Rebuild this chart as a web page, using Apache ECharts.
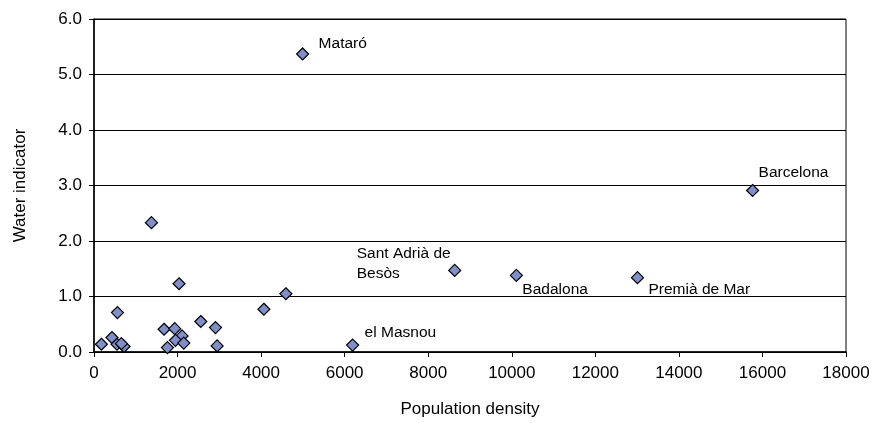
<!DOCTYPE html>
<html><head><meta charset="utf-8">
<script src="https://cdn.jsdelivr.net/npm/echarts@6/dist/echarts.min.js"></script>
<style>html,body{margin:0;padding:0;background:#fff}#c{width:877px;height:423px}</style>
</head><body><div id="c"></div>
<script>
const density = [4993, 15764, 13009, 10110, 8634, 6190, 1375, 2036, 561, 4066, 4593, 2556, 2908, 1677, 1933, 2108, 1950, 2149, 1758, 2947, 177, 431, 551, 719, 656];
const water   = [5.37, 2.91, 1.34, 1.38, 1.47, 0.125, 2.33, 1.23, 0.71, 0.77, 1.05, 0.55, 0.44, 0.41, 0.42, 0.29, 0.21, 0.16, 0.08, 0.11, 0.14, 0.26, 0.14, 0.10, 0.15];
const names   = ["Mataró", "Barcelona", "Premià de Mar", "Badalona", "Sant Adrià de\nBesòs", "el Masnou", "", "", "", "", "", "", "", "", "", "", "", "", "", "", "", "", "", "", ""];
const labelOffsets = {
  "Mataró": [16, -10],
  "Barcelona": [6, -18],
  "Premià de Mar": [11, 12],
  "Badalona": [6, 14],
  "Sant Adrià de\nBesòs": [-98, -7],
  "el Masnou": [12, -12]
};
const xTicks = {min: 0, max: 18000, interval: 2000};
const yTicks = {min: 0, max: 6, interval: 1};
const FONT = 'Liberation Sans, Arial, sans-serif';

const data = density.map((d, i) => {
  const item = {value: [d, water[i]], name: names[i]};
  if (names[i]) {
    item.label = {show: true, formatter: names[i], position: 'inside', align: 'left',
      offset: labelOffsets[names[i]], color: '#000', fontSize: 15.5,
      fontFamily: FONT, lineHeight: 20};
  }
  return item;
});

const chart = echarts.init(document.getElementById('c'));
chart.setOption({
  animation: false,
  grid: {left: 94, right: 31, top: 19, bottom: 69, show: true, borderColor: '#000', borderWidth: 1},
  xAxis: {
    type: 'value', min: xTicks.min, max: xTicks.max, interval: xTicks.interval,
    name: 'Population density', nameLocation: 'middle', nameGap: 49,
    nameTextStyle: {fontSize: 17, color: '#000', fontFamily: FONT},
    axisLine: {show: true, lineStyle: {color: '#000', width: 1.5}},
    axisTick: {show: true, length: 5, lineStyle: {color: '#000'}},
    axisLabel: {color: '#000', fontSize: 17, margin: 13, fontFamily: FONT, formatter: v => String(v)},
    splitLine: {show: false}
  },
  yAxis: {
    type: 'value', min: yTicks.min, max: yTicks.max, interval: yTicks.interval,
    name: 'Water indicator', nameLocation: 'middle', nameGap: 65,
    nameTextStyle: {fontSize: 17, color: '#000', fontFamily: FONT},
    axisLine: {show: true, lineStyle: {color: '#000', width: 1.5}},
    axisTick: {show: true, length: 5, lineStyle: {color: '#000'}},
    axisLabel: {color: '#000', fontSize: 17, margin: 12, formatter: v => v.toFixed(1), fontFamily: FONT},
    splitLine: {show: true, lineStyle: {color: '#000', width: 1}}
  },
  series: [{
    type: 'scatter',
    symbol: 'diamond',
    symbolSize: 12,
    itemStyle: {color: '#7f8fcc', borderColor: '#000', borderWidth: 1.2, opacity: 1},
    data: data
  }]
});
</script></body></html>
